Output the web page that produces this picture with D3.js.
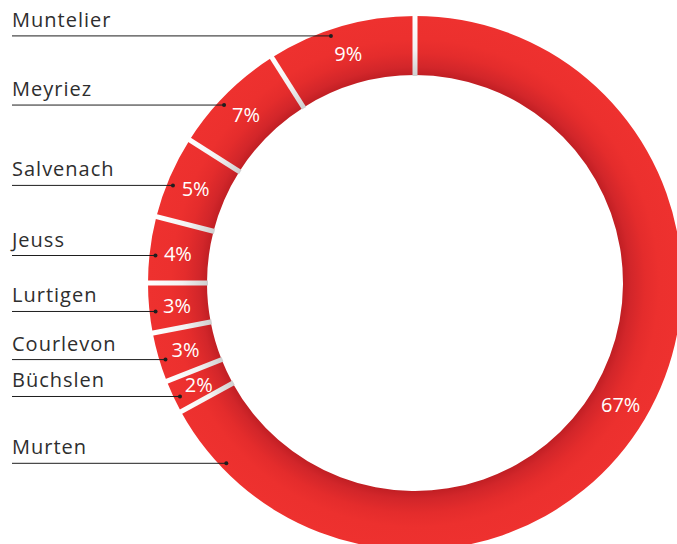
<!DOCTYPE html>
<html>
<head>
<meta charset="utf-8">
<script src="https://cdn.jsdelivr.net/npm/d3@7"></script>
<style>
  html, body { margin: 0; padding: 0; background: #fff; }
  svg { display: block; }
</style>
</head>
<body>
<div id="chart"></div>
<script>
// communes, clockwise from 12 o'clock
var categories = ["Murten", "Büchslen", "Courlevon", "Lurtigen", "Jeuss", "Salvenach", "Meyriez", "Muntelier"];
var shares = [67, 2, 3, 3, 4, 5, 7, 9];
var pctLabels = ["67%", "2%", "3%", "3%", "4%", "5%", "7%", "9%"];

var width = 677;
var height = 544;
var cx = 415, cy = 283;
var outerR = 267, innerR = 208;

var dataset = categories.map(function (c, i) {
    return { label: c, count: shares[i], pct: pctLabels[i] };
});

var svg = d3.select("#chart")
    .append("svg")
    .attr("width", width)
    .attr("height", height);

var defs = svg.append("defs");

// radial shading: darker toward the hole (centred on the ring group origin)
var grad = defs.append("radialGradient")
    .attr("id", "ringGrad")
    .attr("gradientUnits", "userSpaceOnUse")
    .attr("cx", 0).attr("cy", 0).attr("r", outerR);
grad.append("stop").attr("offset", innerR / outerR).attr("stop-color", "#c11f24");
grad.append("stop").attr("offset", (innerR + 8) / outerR).attr("stop-color", "#d2262a");
grad.append("stop").attr("offset", (innerR + 22) / outerR).attr("stop-color", "#e42c2c");
grad.append("stop").attr("offset", (innerR + 36) / outerR).attr("stop-color", "#ec302e");
grad.append("stop").attr("offset", 1).attr("stop-color", "#ee312f");

var sepGrad = defs.append("radialGradient")
    .attr("id", "sepGrad")
    .attr("gradientUnits", "userSpaceOnUse")
    .attr("cx", 0).attr("cy", 0).attr("r", outerR);
sepGrad.append("stop").attr("offset", innerR / outerR).attr("stop-color", "#d0d0d0");
sepGrad.append("stop").attr("offset", (innerR + 25) / outerR).attr("stop-color", "#f2f2f2");
sepGrad.append("stop").attr("offset", 1).attr("stop-color", "#ffffff");

var arc = d3.arc()
    .innerRadius(innerR)
    .outerRadius(outerR);

var pie = d3.pie()
    .value(function (d) { return d.count; })
    .sort(null);

var arcs = pie(dataset);

var ring = svg.append("g")
    .attr("transform", "translate(" + cx + "," + cy + ")");

ring.selectAll("path")
    .data(arcs)
    .enter()
    .append("path")
    .attr("d", arc)
    .attr("fill", "url(#ringGrad)");

function polar(a, r) {
    return [r * Math.sin(a), -r * Math.cos(a)];
}

// separators between slices
ring.selectAll("line")
    .data(arcs)
    .enter()
    .append("line")
    .attr("x1", function (d) { return polar(d.startAngle, innerR - 1)[0]; })
    .attr("y1", function (d) { return polar(d.startAngle, innerR - 1)[1]; })
    .attr("x2", function (d) { return polar(d.startAngle, outerR + 1)[0]; })
    .attr("y2", function (d) { return polar(d.startAngle, outerR + 1)[1]; })
    .attr("stroke", "url(#sepGrad)")
    .attr("stroke-width", 5);

// percentage labels
ring.selectAll("text")
    .data(arcs)
    .enter()
    .append("text")
    .attr("x", function (d) { return polar((d.startAngle + d.endAngle) / 2, 239)[0]; })
    .attr("y", function (d) { return polar((d.startAngle + d.endAngle) / 2, 239)[1]; })
    .attr("text-anchor", "middle")
    .attr("dominant-baseline", "central")
    .attr("fill", "#ffffff")
    .style("font-family", "'Open Sans', sans-serif")
    .style("font-size", "20px")
    .text(function (d) { return d.data.pct; });

// leader anchors: a little before the middle of each slice, big slice near its end
function anchorAngle(d) {
    var a = d.startAngle + 0.42 * (d.endAngle - d.startAngle);
    if (a < Math.PI) a = d.endAngle - 0.26;
    return a;
}
var anchorR = 261;
var leaders = svg.append("g");
arcs.forEach(function (d) {
    var p = polar(anchorAngle(d), anchorR);
    var px = cx + p[0], py = cy + p[1];
    leaders.append("line")
        .attr("x1", 12).attr("y1", py)
        .attr("x2", px).attr("y2", py)
        .attr("stroke", "#1e1e1e")
        .attr("stroke-width", 1);
    leaders.append("circle")
        .attr("cx", px).attr("cy", py)
        .attr("r", 2)
        .attr("fill", "#1e1e1e");
    leaders.append("text")
        .attr("x", 12).attr("y", py - 9)
        .attr("fill", "#2e2e2e")
        .style("font-family", "'Open Sans', sans-serif")
        .style("font-size", "20px")
        .style("letter-spacing", "1px")
        .text(d.data.label);
});
</script>
</body>
</html>
